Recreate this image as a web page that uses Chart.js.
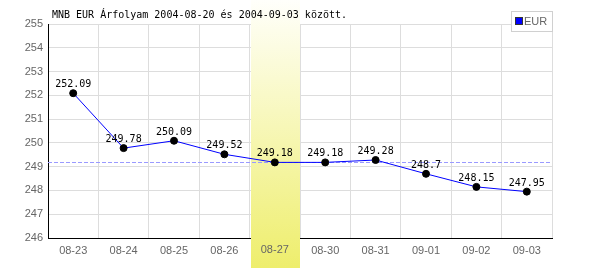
<!DOCTYPE html>
<html>
<head>
<meta charset="utf-8">
<script src="https://cdn.jsdelivr.net/npm/chart.js@4"></script>
<style>
    html, body { margin: 0; padding: 0; background: #fff; }
    #wrap { width: 600px; height: 270px; }
</style>
</head>
<body>
<div id="wrap"><canvas id="chart" width="600" height="270"></canvas></div>
<script>
const days = ['08-23', '08-24', '08-25', '08-26', '08-27', '08-30', '08-31', '09-01', '09-02', '09-03'];
const eur = [252.09, 249.78, 250.09, 249.52, 249.18, 249.18, 249.28, 248.7, 248.15, 247.95];
const labelText = ['252.09', '249.78', '250.09', '249.52', '249.18', '249.18', '249.28', '248.7', '248.15', '247.95'];
const highlightDay = '08-27';
const refValue = 249.18;
const titleText = 'MNB EUR Árfolyam 2004-08-20 és 2004-09-03 között.';
const yMin = 246, yMax = 255;

const tickFont = { family: 'Liberation Sans', size: 11 };
const monoFont = '10px "DejaVu Sans Mono"';

// kiemelt nap sávja + referencia vonal
const bandPlugin = {
    id: 'band',
    beforeDatasetsDraw(chart) {
        const ctx = chart.ctx;
        const x = chart.scales.x, y = chart.scales.y;
        const i = days.indexOf(highlightDay);
        const half = (x.getPixelForValue(1) - x.getPixelForValue(0)) / 2;
        const cx = x.getPixelForValue(i);
        const g = ctx.createLinearGradient(0, 0, 0, 268);
        g.addColorStop(0, '#fffffb');
        g.addColorStop(1, '#eeee6c');
        ctx.save();
        ctx.fillStyle = g;
        ctx.fillRect(Math.round(cx - half) + 1, 0, Math.round(half * 2) - 1, 268);

        // nap felirata a sáv fölé
        ctx.fillStyle = '#666';
        ctx.font = '11px "Liberation Sans"';
        ctx.textAlign = 'center';
        ctx.textBaseline = 'top';
        ctx.fillText(highlightDay, cx, y.bottom + 6);

        // szaggatott vonal
        const ry = Math.round(y.getPixelForValue(refValue)) + 0.5;
        ctx.strokeStyle = '#9a9aff';
        ctx.lineWidth = 1;
        ctx.setLineDash([4, 2]);
        ctx.beginPath();
        ctx.moveTo(x.left, ry);
        ctx.lineTo(x.right, ry);
        ctx.stroke();
        ctx.restore();
    },
    afterDatasetsDraw(chart) {
        const ctx = chart.ctx;
        const meta = chart.getDatasetMeta(0);
        ctx.save();
        ctx.font = monoFont;
        ctx.fillStyle = '#000';
        ctx.textAlign = 'center';
        ctx.textBaseline = 'alphabetic';
        meta.data.forEach((pt, i) => {
            ctx.fillText(labelText[i], pt.x, pt.y - 6);
        });

        // cím
        ctx.textAlign = 'left';
        ctx.textBaseline = 'middle';
        ctx.fillText(titleText, 52, 15);

        // jelmagyarázat
        ctx.fillStyle = '#fff';
        ctx.fillRect(511.5, 11.5, 41, 20);
        ctx.strokeStyle = '#d0d0d0';
        ctx.lineWidth = 1;
        ctx.strokeRect(511.5, 11.5, 41, 20);
        ctx.fillStyle = '#0000ff';
        ctx.fillRect(516, 18, 6, 6);
        ctx.strokeStyle = '#333';
        ctx.strokeRect(515.5, 17.5, 7, 7);
        ctx.fillStyle = '#666';
        ctx.font = '11px "Liberation Sans"';
        ctx.fillText('EUR', 524, 22);
        ctx.restore();
    }
};

const chartCtx = document.getElementById('chart').getContext('2d');
const chart = new Chart(chartCtx, {
    type: 'line',
    data: {
        labels: days,
        datasets: [{
            label: 'EUR',
            data: eur,
            borderColor: '#0000ff',
            borderWidth: 1,
            pointRadius: 3.5,
            pointBackgroundColor: '#000',
            pointBorderColor: '#000',
            pointBorderWidth: 1,
            tension: 0,
            fill: false
        }]
    },
    options: {
        responsive: false,
        animation: false,
        layout: { padding: { top: 24, right: 48, left: 0, bottom: 0 } },
        plugins: {
            legend: { display: false },
            tooltip: { enabled: false }
        },
        scales: {
            x: {
                offset: true,
                grid: { offset: true, color: '#dddddd', drawTicks: false },
                border: { color: '#000', width: 1 },
                ticks: { color: '#666', font: tickFont, padding: 6, maxRotation: 0 },
                afterFit(s) { s.height = 32; }
            },
            y: {
                min: yMin,
                max: yMax,
                grid: { color: '#dddddd', drawTicks: false },
                border: { color: '#000', width: 1 },
                ticks: { stepSize: 1, color: '#666', font: tickFont, padding: 5 },
                afterFit(s) { s.width = 48; }
            }
        }
    },
    plugins: [bandPlugin]
});
</script>
</body>
</html>
